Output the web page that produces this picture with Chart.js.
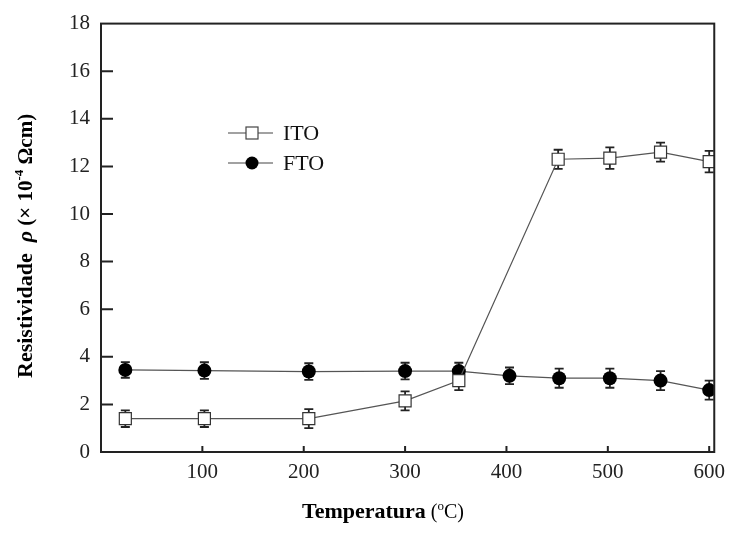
<!DOCTYPE html>
<html>
<head>
<meta charset="utf-8">
<script src="https://cdn.jsdelivr.net/npm/chart.js@4"></script>
<style>
body{margin:0;background:#fff;}
#wrap{width:733px;height:537px;}
</style>
</head>
<body>
<div id="wrap"><canvas id="myChart" width="733" height="537"></canvas></div>
<script>
// valores
var tempITO = [24, 102, 205, 300, 353, 451, 502, 552, 600];
var valITO = [1.4, 1.4, 1.4, 2.15, 3.0, 12.3, 12.35, 12.6, 12.2];
var errITO = [0.35, 0.35, 0.4, 0.4, 0.4, 0.4, 0.45, 0.4, 0.45];

var tempFTO = [24, 102, 205, 300, 353, 403, 452, 502, 552, 600];
var valFTO = [3.45, 3.42, 3.38, 3.4, 3.4, 3.2, 3.1, 3.1, 3.0, 2.6];
var errFTO = [0.33, 0.35, 0.35, 0.35, 0.35, 0.35, 0.4, 0.4, 0.4, 0.4];

var xTicks = [100, 200, 300, 400, 500, 600];
var yTicks = [0, 2, 4, 6, 8, 10, 12, 14, 16, 18];
var serif = "'Liberation Serif', 'Times New Roman', serif";

var makePoints = function(xs, ys){
	var pts = [];
	for(var i = 0; i < xs.length; i++){
		pts.push({x: xs[i], y: ys[i]});
	}
	return pts;
}
var toTicks = function(arr){
	return arr.map(function(v){ return {value: v}; });
}

// barras de erro, desenhadas antes dos marcadores
var errorBars = {
	id: 'errorBars',
	beforeDatasetsDraw: function(chart){
		var ctx = chart.ctx;
		var xs = chart.scales.x, ys = chart.scales.y;
		var sets = [[tempITO, valITO, errITO], [tempFTO, valFTO, errFTO]];
		ctx.save();
		ctx.strokeStyle = '#222';
		ctx.lineWidth = 1.8;
		sets.forEach(function(s){
			for(var i = 0; i < s[0].length; i++){
				var px = xs.getPixelForValue(s[0][i]);
				var top = ys.getPixelForValue(s[1][i] + s[2][i]);
				var bot = ys.getPixelForValue(s[1][i] - s[2][i]);
				ctx.beginPath();
				ctx.moveTo(px, top); ctx.lineTo(px, bot);
				ctx.moveTo(px - 4.5, top); ctx.lineTo(px + 4.5, top);
				ctx.moveTo(px - 4.5, bot); ctx.lineTo(px + 4.5, bot);
				ctx.stroke();
			}
		});
		ctx.restore();
	}
}

// moldura, marcas internas, legenda e títulos
var frame = {
	id: 'frame',
	afterDraw: function(chart){
		var ctx = chart.ctx;
		var a = chart.chartArea;
		var xs = chart.scales.x, ys = chart.scales.y;
		ctx.save();
		ctx.strokeStyle = '#222';
		ctx.lineWidth = 2;
		ctx.strokeRect(a.left, a.top, a.right - a.left, a.bottom - a.top);
		ctx.beginPath();
		yTicks.forEach(function(v){
			if(v == 0 || v == 18) return;
			var py = ys.getPixelForValue(v);
			ctx.moveTo(a.left, py); ctx.lineTo(a.left + 12, py);
		});
		xTicks.forEach(function(v){
			var px = xs.getPixelForValue(v);
			ctx.moveTo(px, a.bottom); ctx.lineTo(px, a.bottom - 6);
		});
		ctx.stroke();

		// legenda
		ctx.strokeStyle = '#444';
		ctx.lineWidth = 1.2;
		ctx.beginPath();
		ctx.moveTo(228, 133); ctx.lineTo(273, 133);
		ctx.moveTo(228, 163); ctx.lineTo(273, 163);
		ctx.stroke();
		ctx.fillStyle = '#fff';
		ctx.fillRect(246, 127, 12, 12);
		ctx.strokeRect(246, 127, 12, 12);
		ctx.fillStyle = '#000';
		ctx.beginPath();
		ctx.arc(252, 163, 6.5, 0, Math.PI * 2);
		ctx.fill();
		ctx.fillStyle = '#111';
		ctx.font = '22px ' + serif;
		ctx.textBaseline = 'middle';
		ctx.textAlign = 'left';
		ctx.fillText('ITO', 283, 134);
		ctx.fillText('FTO', 283, 164);

		// título do eixo x
		ctx.textBaseline = 'alphabetic';
		ctx.fillStyle = '#000';
		var t1 = 'Temperatura', t2 = ' (', t3 = 'o', t4 = 'C)';
		ctx.font = 'bold 22px ' + serif;
		var w1 = ctx.measureText(t1).width;
		ctx.font = '20px ' + serif;
		var w2 = ctx.measureText(t2).width;
		var w4 = ctx.measureText(t4).width;
		ctx.font = '13px ' + serif;
		var w3 = ctx.measureText(t3).width;
		var x0 = 383 - (w1 + w2 + w3 + w4) / 2;
		var base = 518;
		ctx.font = 'bold 22px ' + serif;
		ctx.fillText(t1, x0, base);
		ctx.font = '20px ' + serif;
		ctx.fillText(t2, x0 + w1, base);
		ctx.font = '13px ' + serif;
		ctx.fillText(t3, x0 + w1 + w2, base - 8);
		ctx.font = '20px ' + serif;
		ctx.fillText(t4, x0 + w1 + w2 + w3, base);

		// título do eixo y (rodado)
		ctx.translate(32, 378);
		ctx.rotate(-Math.PI / 2);
		var parts = [
			['Resistividade  ', 'bold 22px ', 0],
			['\u03c1', 'bold italic 22px ', 0],
			[' (\u00d7 10', 'bold 21px ', 0],
			['-4', 'bold 13px ', -9],
			[' \u03a9cm)', 'bold 21px ', 0]
		];
		var cx = 0;
		parts.forEach(function(p){
			ctx.font = p[1] + serif;
			ctx.fillText(p[0], cx, p[2]);
			cx += ctx.measureText(p[0]).width;
		});
		ctx.restore();
	}
}

var ctx = document.getElementById('myChart').getContext('2d');
var chart = new Chart(ctx, {
	type: 'line',
	data: {
		datasets: [{
			label: 'ITO',
			data: makePoints(tempITO, valITO),
			borderColor: '#555',
			borderWidth: 1.2,
			pointStyle: 'rect',
			pointRadius: 8.5,
			pointBackgroundColor: '#fff',
			pointBorderColor: '#333',
			pointBorderWidth: 1.2,
			tension: 0
		},
		{
			label: 'FTO',
			data: makePoints(tempFTO, valFTO),
			borderColor: '#555',
			borderWidth: 1.2,
			pointStyle: 'circle',
			pointRadius: 7,
			pointBackgroundColor: '#000',
			pointBorderColor: '#000',
			pointBorderWidth: 0,
			tension: 0
		}]
	},
	options: {
		responsive: false,
		animation: false,
		layout: {
			autoPadding: false,
			padding: {top: 16, right: 7, left: 0, bottom: 0}
		},
		plugins: {
			legend: {display: false},
			tooltip: {enabled: false}
		},
		scales: {
			x: {
				type: 'linear',
				min: 0,
				max: 605,
				afterBuildTicks: function(s){ s.ticks = toTicks(xTicks); },
				afterFit: function(s){ s.height = 85; },
				grid: {display: false, drawTicks: false},
				border: {display: false},
				ticks: {
					autoSkip: false,
					maxRotation: 0,
					minRotation: 0,
					padding: 8,
					color: '#222',
					font: {family: serif, size: 21}
				}
			},
			y: {
				type: 'linear',
				min: 0,
				max: 18,
				afterBuildTicks: function(s){ s.ticks = toTicks(yTicks); },
				afterFit: function(s){ s.width = 101; },
				grid: {display: false, drawTicks: false},
				border: {display: false},
				ticks: {
					autoSkip: false,
					padding: 11,
					color: '#222',
					font: {family: serif, size: 21}
				}
			}
		}
	},
	plugins: [errorBars, frame]
});
</script>
</body>
</html>
